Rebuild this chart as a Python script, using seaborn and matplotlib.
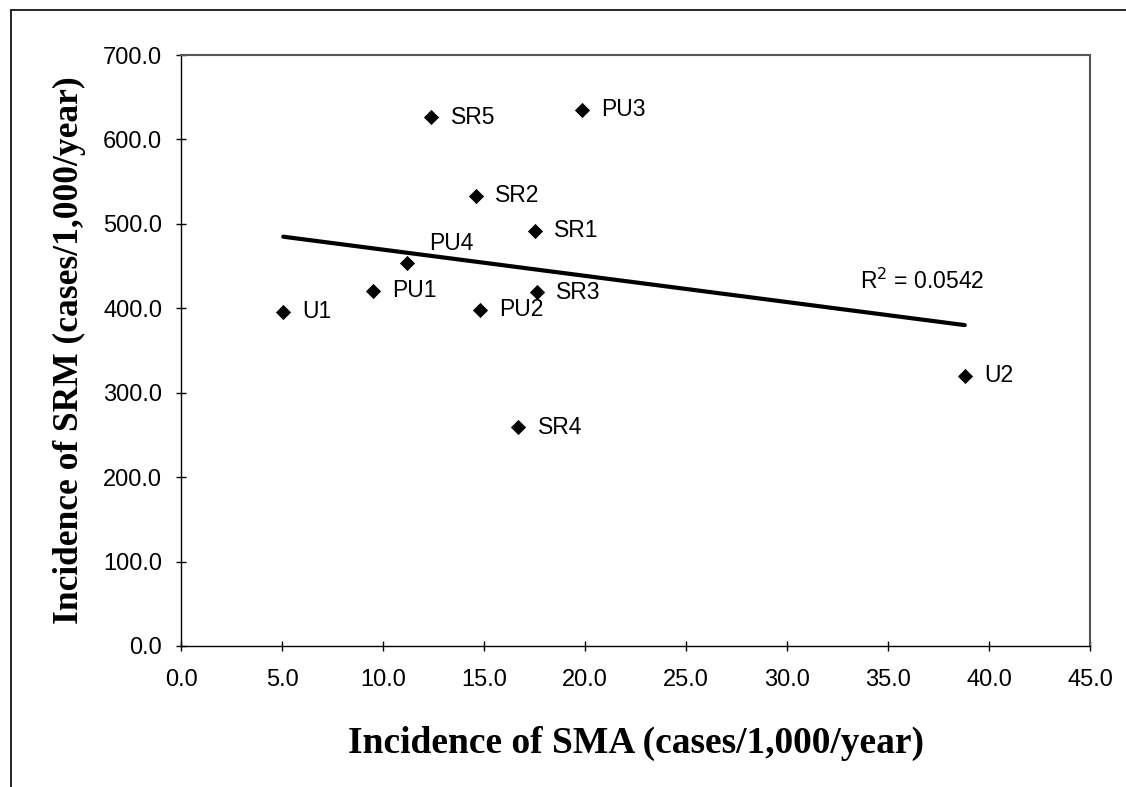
import matplotlib
matplotlib.use("Agg")
import matplotlib.pyplot as plt
import seaborn as sns
import pandas as pd
from matplotlib.lines import Line2D

sites = ["SR5", "PU3", "SR2", "SR1", "PU4", "PU1", "U1", "PU2", "SR3", "SR4", "U2"]
sma = [12.4, 19.85, 14.6, 17.5, 11.2, 9.5, 5.06, 14.8, 17.6, 16.7, 38.8]
srm = [626.0, 635.0, 533.0, 492.0, 454.0, 421.0, 396.0, 398.0, 419.0, 259.0, 320.0]
r2_text = "R$^2$ = 0.0542"

df = pd.DataFrame({"site": sites, "sma": sma, "srm": srm})

sns.set_theme(style="white")
plt.rcParams["font.family"] = ["Liberation Sans", "DejaVu Sans"]
plt.rcParams["text.color"] = "black"
plt.rcParams["xtick.color"] = "black"
plt.rcParams["ytick.color"] = "black"
plt.rcParams["axes.labelcolor"] = "black"

fig = plt.figure(figsize=(11.26, 7.87), dpi=100)
ax = fig.add_axes([181 / 1126, 1 - 646 / 787, (1090 - 181) / 1126, (646 - 55) / 787])

sns.regplot(data=df, x="sma", y="srm", ax=ax, ci=None, scatter=False,
            line_kws={"color": "black", "linewidth": 3.0})
sns.scatterplot(data=df, x="sma", y="srm", ax=ax, marker="D", s=60,
                color="black", edgecolor="black", linewidth=0, zorder=5)

for s, x, y in zip(sites, sma, srm):
    if s == "PU4":
        ax.annotate(s, (x, y), xytext=(16, 14), textcoords="offset points",
                    ha="left", va="center", fontsize=16.5, color="black")
    else:
        ax.annotate(s, (x, y), xytext=(14, 0), textcoords="offset points",
                    ha="left", va="center", fontsize=16.5, color="black")

ax.text(33.6, 432, r2_text, ha="left", va="center", fontsize=16.5, color="black")

ax.set_xlim(0, 45)
ax.set_ylim(0, 700)
ax.set_xticks([0, 5, 10, 15, 20, 25, 30, 35, 40, 45])
ax.set_yticks([0, 100, 200, 300, 400, 500, 600, 700])
ax.set_xticklabels([f"{v:.1f}" for v in ax.get_xticks()])
ax.set_yticklabels([f"{v:.1f}" for v in ax.get_yticks()])
ax.tick_params(axis="both", which="major", labelsize=17, direction="inout",
               length=7, width=1, color="black", left=True, bottom=True)
ax.tick_params(axis="x", pad=13)
ax.tick_params(axis="y", pad=10)

for side in ["left", "bottom"]:
    ax.spines[side].set_color("black")
    ax.spines[side].set_linewidth(1.0)
for side in ["top", "right"]:
    ax.spines[side].set_color("#555555")
    ax.spines[side].set_linestyle((0, (1, 1)))
    ax.spines[side].set_linewidth(1.5)

ax.set_xlabel("Incidence of SMA (cases/1,000/year)", family=["Liberation Serif"],
              fontweight="bold", fontsize=27, labelpad=25, color="black")
ax.set_ylabel("Incidence of SRM (cases/1,000/year)", family=["Liberation Serif"],
              fontweight="bold", fontsize=25.5, labelpad=12, color="black")

# outer border (top and left only, as in the scan)
fig.add_artist(Line2D([11 / 1126, 11 / 1126], [0, 1 - 10 / 787], color="black",
                      linewidth=1.2, transform=fig.transFigure))
fig.add_artist(Line2D([11 / 1126, 1], [1 - 10 / 787, 1 - 10 / 787], color="black",
                      linewidth=1.2, transform=fig.transFigure))

fig.savefig("out.png", dpi=100, facecolor="white")
